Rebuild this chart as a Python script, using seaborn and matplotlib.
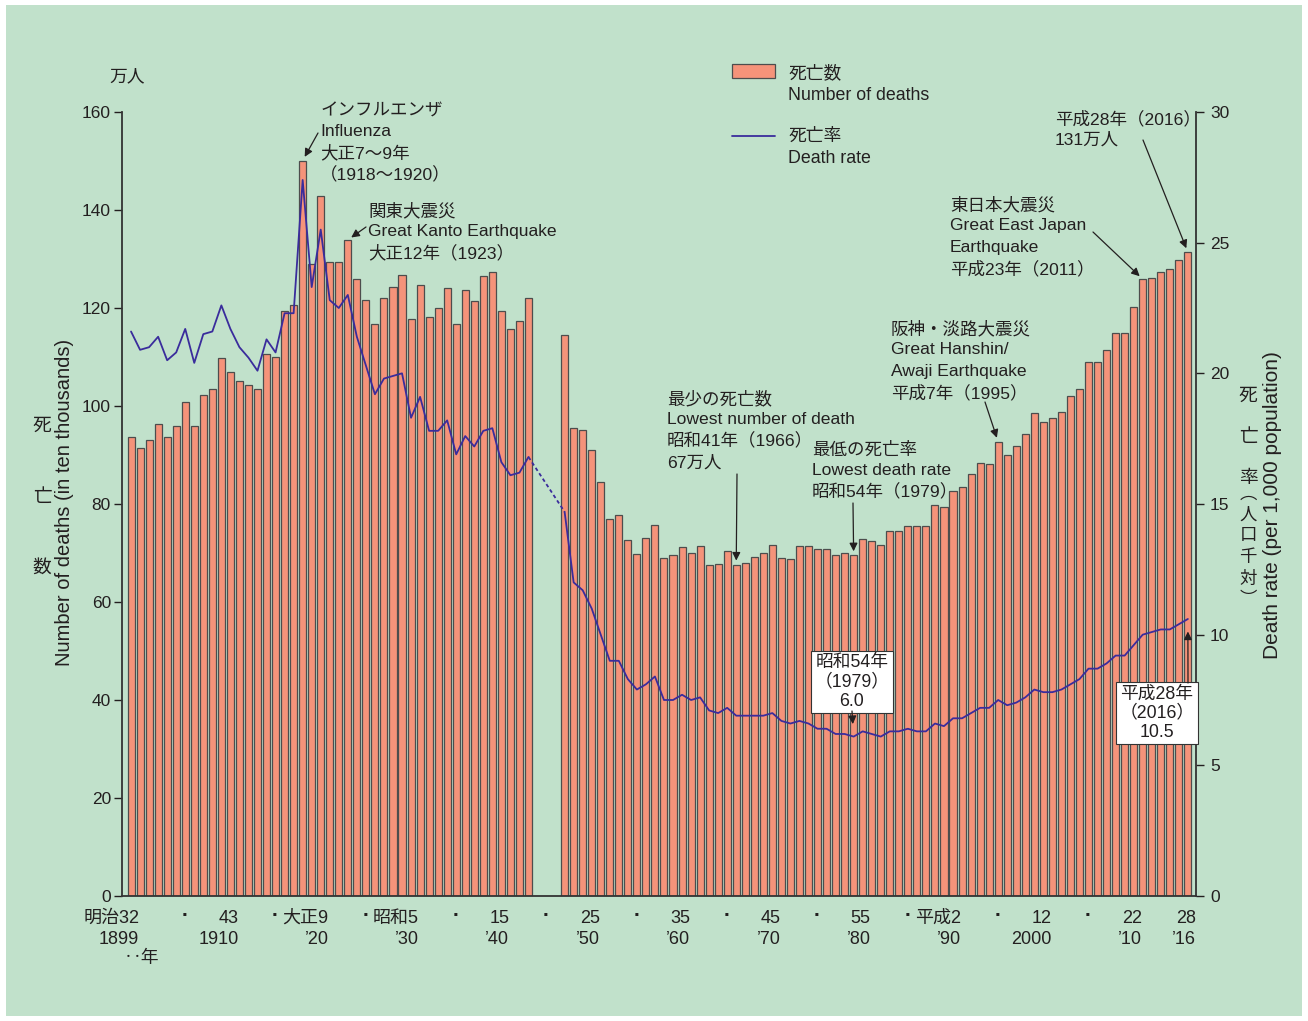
import numpy as np
import pandas as pd
import matplotlib
matplotlib.use("Agg")
import matplotlib.pyplot as plt
import seaborn as sns
from matplotlib.patches import Rectangle
from matplotlib.lines import Line2D
from matplotlib.transforms import ScaledTranslation

# ---------------- data ----------------
years_prewar = list(range(1899, 1944))
deaths_prewar = [93.6, 91.5, 93.1, 96.4, 93.6, 96.0, 100.9, 96.0, 102.2, 103.5,
                 109.7, 107.0, 105.0, 104.2, 103.4, 110.7, 110.0, 119.4, 120.6, 150.1,
                 129.0, 142.9, 129.4, 129.3, 133.9, 126.0, 121.6, 116.7, 122.0, 124.2,
                 126.7, 117.7, 124.7, 118.1, 119.9, 124.0, 116.7, 123.7, 121.4, 126.6,
                 127.4, 119.3, 115.7, 117.3, 122.0]
rate_prewar = [21.6, 20.9, 21.0, 21.4, 20.5, 20.8, 21.7, 20.4, 21.5, 21.6,
               22.6, 21.7, 21.0, 20.6, 20.1, 21.3, 20.8, 22.3, 22.3, 27.4,
               23.3, 25.5, 22.8, 22.5, 23.0, 21.4, 20.3, 19.2, 19.8, 19.9,
               20.0, 18.3, 19.1, 17.8, 17.8, 18.2, 16.9, 17.6, 17.2, 17.8,
               17.9, 16.6, 16.1, 16.2, 16.8]

years_postwar = list(range(1947, 2017))
deaths_postwar = [114.5, 95.6, 95.1, 91.0, 84.4, 77.0, 77.8, 72.7, 69.8, 73.0,
                  75.7, 68.9, 69.5, 71.2, 70.0, 71.5, 67.6, 67.8, 70.5, 67.6,
                  68.0, 69.1, 69.9, 71.7, 68.9, 68.8, 71.4, 71.5, 70.8, 70.8,
                  69.5, 70.1, 69.5, 72.8, 72.5, 71.7, 74.5, 74.5, 75.6, 75.6,
                  75.6, 79.7, 79.4, 82.6, 83.4, 86.1, 88.3, 88.1, 92.7, 90.1,
                  91.8, 94.2, 98.6, 96.7, 97.5, 98.7, 102.0, 103.4, 108.9, 108.9,
                  111.4, 114.8, 114.8, 120.3, 125.9, 126.2, 127.4, 127.9, 129.7, 131.4]
rate_postwar = [14.7, 12.0, 11.7, 11.0, 10.0, 9.0, 9.0, 8.3, 7.9, 8.1,
                8.4, 7.5, 7.5, 7.7, 7.5, 7.6, 7.1, 7.0, 7.2, 6.9,
                6.9, 6.9, 6.9, 7.0, 6.7, 6.6, 6.7, 6.6, 6.4, 6.4,
                6.2, 6.2, 6.1, 6.3, 6.2, 6.1, 6.3, 6.3, 6.4, 6.3,
                6.3, 6.6, 6.5, 6.8, 6.8, 7.0, 7.2, 7.2, 7.5, 7.3,
                7.4, 7.6, 7.9, 7.8, 7.8, 7.9, 8.1, 8.3, 8.7, 8.7,
                8.9, 9.2, 9.2, 9.6, 10.0, 10.1, 10.2, 10.2, 10.4, 10.6]

major_tick_years = [1899, 1910, 1920, 1930, 1940, 1950, 1960, 1970, 1980, 1990, 2000, 2010, 2016]
major_tick_labels = ["明治32\n1899", "43\n1910", "大正9\n’20", "昭和5\n’30", "15\n’40",
                     "25\n’50", "35\n’60", "45\n’70", "55\n’80", "平成2\n’90",
                     "12\n2000", "22\n’10", "28\n’16"]
dot_tick_years = [1905, 1915, 1925, 1935, 1945, 1955, 1965, 1975, 1985, 1995, 2005]
left_ticks = [0, 20, 40, 60, 80, 100, 120, 140, 160]
right_ticks = [0, 5, 10, 15, 20, 25, 30]

# ---------------- style ----------------
W, H = 1308, 1021
sns.set_style("ticks")
plt.rcParams["font.family"] = ["Liberation Sans", "Noto Sans CJK JP"]
plt.rcParams["text.color"] = "#231f20"
plt.rcParams["axes.labelcolor"] = "#231f20"

BG = "#c1e1cb"
BAR = "#f5937a"
BAR_EDGE = "#4d4d4d"
LINE = "#3a2c9c"
INK = "#231f20"
FS = 12.8
FS_NOTE = 12.6

fig = plt.figure(figsize=(W / 100, H / 100), dpi=100, facecolor="white")


def P(x, y):
    return (x / W, 1 - y / H)


fig.patches.append(Rectangle(P(6, 1016), (1302 - 6) / W, (1016 - 5) / H,
                             transform=fig.transFigure, facecolor=BG,
                             edgecolor="none", zorder=-10))

ax = fig.add_axes([122 / W, 1 - 896 / H, (1196 - 122) / W, (896 - 112) / H])
ax.set_facecolor("none")

df_bars = pd.DataFrame({
    "year": years_prewar + years_postwar,
    "deaths": deaths_prewar + deaths_postwar,
})
sns.barplot(data=df_bars, x="year", y="deaths", native_scale=True, ax=ax,
            color=BAR, edgecolor=BAR_EDGE, linewidth=0.9, width=0.78,
            saturation=1, errorbar=None)

ax.set_xlim(1898.0, 2016.9)
ax.set_ylim(0, 160)
ax.set_yticks(left_ticks)
ax.set_xlabel("")
ax.set_ylabel("")

ax.tick_params(axis="x", which="major", length=0, pad=10, colors=INK)
ax.tick_params(axis="x", which="minor", length=0, pad=7, colors=INK)
ax.tick_params(axis="y", length=6, width=1, direction="out", labelsize=12.5, pad=2, colors=INK)

ax.set_xticks(major_tick_years)
ax.set_xticklabels(major_tick_labels, fontsize=13, ha="right", linespacing=1.3)
ax.set_xticks(dot_tick_years, minor=True)
ax.set_xticklabels(["·"] * len(dot_tick_years), minor=True, fontsize=15,
                   fontweight="bold", ha="center")
off = ScaledTranslation(8 / 100, 0, fig.dpi_scale_trans)
for tick in ax.xaxis.get_major_ticks():
    tick.label1.set_transform(tick.label1.get_transform() + off)

for s in ["top", "right"]:
    ax.spines[s].set_visible(False)
for s in ["left", "bottom"]:
    ax.spines[s].set_color("#333333")
    ax.spines[s].set_linewidth(1.3)

# ---------------- death-rate line ----------------
ax2 = ax.twinx()
ax2.set_facecolor("none")
df_pre = pd.DataFrame({"year": years_prewar, "rate": rate_prewar})
df_post = pd.DataFrame({"year": years_postwar, "rate": rate_postwar})
df_gap = pd.DataFrame({"year": [years_prewar[-1], years_postwar[0]],
                       "rate": [rate_prewar[-1], rate_postwar[0]]})
sns.lineplot(data=df_pre, x="year", y="rate", ax=ax2, color=LINE, lw=1.3)
sns.lineplot(data=df_post, x="year", y="rate", ax=ax2, color=LINE, lw=1.3)
sns.lineplot(data=df_gap, x="year", y="rate", ax=ax2, color=LINE, lw=1.3,
             linestyle=(0, (2.0, 1.6)))
ax2.set_ylim(0, 30)
ax2.set_yticks(right_ticks)
ax2.set_xlim(1898.0, 2016.9)
ax2.set_ylabel("")
ax2.set_xlabel("")
ax2.tick_params(axis="y", length=6, width=1, direction="out", labelsize=12.5, pad=4, colors=INK)
for s in ["top", "left", "bottom"]:
    ax2.spines[s].set_visible(False)
ax2.spines["right"].set_color("#333333")
ax2.spines["right"].set_linewidth(1.3)

# ---------------- axis titles ----------------
tf = fig.transFigure
fig.text(*P(127, 77), "万人", fontsize=FS, ha="center", va="center")
for ch, yy in zip("死亡数", [426, 497, 568]):
    fig.text(*P(42, yy), ch, fontsize=13.5, ha="center", va="center")
fig.text(*P(65, 502), "Number of deaths (in ten thousands)", fontsize=14.5,
         rotation=90, ha="center", va="center")
for ch, yy in zip("死亡率", [396, 437, 478]):
    fig.text(*P(1248, yy), ch, fontsize=13.5, ha="center", va="center")
fig.text(*P(1248, 547), "︵\n人\n口\n千\n対\n︶", fontsize=12.5, ha="center", va="center",
         linespacing=1.45)
fig.text(*P(1273, 505), "Death rate (per 1,000 population)", fontsize=15,
         rotation=90, ha="center", va="center")
fig.text(*P(124, 958), "‥年", fontsize=FS, ha="left", va="center")

# ---------------- legend ----------------
fig.patches.append(Rectangle(P(732, 78), 43 / W, 14 / H, transform=tf,
                             facecolor=BAR, edgecolor=BAR_EDGE, lw=0.9))
fig.text(*P(788, 65), "死亡数\nNumber of deaths", fontsize=FS, ha="left", va="top",
         linespacing=1.38)
fig.lines.append(Line2D([732 / W, 775 / W], [1 - 136 / H, 1 - 136 / H],
                        transform=tf, color=LINE, lw=1.3))
fig.text(*P(788, 128), "死亡率\nDeath rate", fontsize=FS, ha="left", va="top",
         linespacing=1.42)

# ---------------- annotations ----------------
ap = dict(arrowstyle="-|>", color=INK, lw=0.9, mutation_scale=12,
          shrinkA=0, shrinkB=3)

def deaths_of(y):
    d = dict(zip(df_bars["year"], df_bars["deaths"]))
    return d[y]

def rate_of(y):
    d = dict(zip(years_prewar + years_postwar, rate_prewar + rate_postwar))
    return d[y]

notes = [
    (320, 109, ["インフルエンザ", "Influenza", "大正7〜9年", "（1918〜1920）"], 1918, (318, 133)),
    (368, 209, ["関東大震災", "Great Kanto Earthquake", "大正12年（1923）"], 1923, (366, 227)),
    (1055, 117, ["平成28年（2016）", "131万人"], 2016, (1143, 140)),
    (950, 203, ["東日本大震災", "Great East Japan", "Earthquake", "平成23年（2011）"], 2011, (1093, 232)),
    (891, 327, ["阪神・淡路大震災", "Great Hanshin/", "Awaji Earthquake", "平成7年（1995）"], 1995, (985, 402)),
    (667, 397, ["最少の死亡数", "Lowest number of death", "昭和41年（1966）", "67万人"], 1966, (737, 474)),
    (812, 448, ["最低の死亡率", "Lowest death rate", "昭和54年（1979）"], 1979, (853, 503)),
]
STEP = 21.4
for x0, y0, lines, yr, start in notes:
    for i, line in enumerate(lines):
        fig.text(*P(x0, y0 + i * STEP), line, fontsize=FS_NOTE, ha="left",
                 va="center_baseline")
    ax.annotate("", xy=(yr, deaths_of(yr)), xycoords="data",
                xytext=P(*start), textcoords="figure fraction", arrowprops=ap)

box = dict(boxstyle="square,pad=0.2", fc="white", ec="#333333", lw=0.8)
ax2.text(*P(852, 682), "昭和54年\n（1979）\n6.0", transform=tf, fontsize=FS,
         ha="center", va="center", linespacing=1.16, bbox=box, zorder=5)
ax2.annotate("", xy=(1979, rate_of(1979)), xycoords="data",
             xytext=P(852, 711), textcoords="figure fraction",
             arrowprops=dict(ap, shrinkB=9), zorder=6)
ax2.text(*P(1157, 713), "平成28年\n（2016）\n10.5", transform=tf, fontsize=FS,
         ha="center", va="center", linespacing=1.16, bbox=box, zorder=5)
ax2.annotate("", xy=(2016, rate_of(2016)), xycoords="data",
             xytext=P(1188, 683), textcoords="figure fraction",
             arrowprops=dict(ap, shrinkB=9), zorder=6)

fig.savefig("out.png", dpi=100, facecolor="white")
